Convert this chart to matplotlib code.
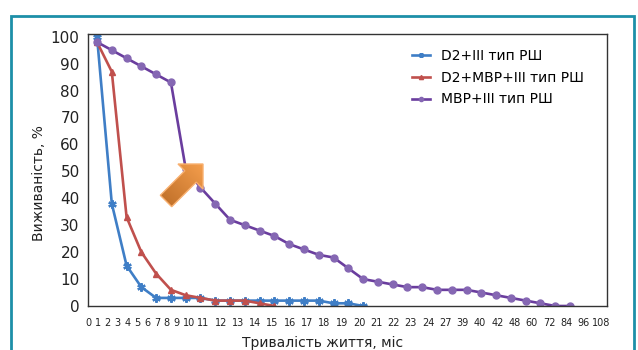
import matplotlib
matplotlib.use("Agg")
import matplotlib.pyplot as plt
import numpy as np
from matplotlib.colors import LinearSegmentedColormap
from matplotlib.patches import Polygon, Rectangle

# category labels of the x axis (months)
month_labels = ["0", "1", "2", "3", "4", "5", "6", "7", "8", "9", "10", "11", "12",
                "13", "14", "15", "16", "17", "18", "19", "20", "21", "22", "23",
                "24", "27", "39", "40", "42", "48", "60", "72", "84", "96", "108"]

# survival, %
d2_iii = [100, 38, 15, 7, 3, 3, 3, 3, 2, 2, 2, 2, 2, 2, 2, 2, 1, 1, 0]
d2_mbp_iii = [98, 87, 33, 20, 12, 6, 4, 3, 2, 2, 2, 1, 0]
mbp_iii = [98, 95, 92, 89, 86, 83, 51, 44, 38, 32, 30, 28, 26, 23, 21, 19, 18,
           14, 10, 9, 8, 7, 7, 6, 6, 6, 5, 4, 3, 2, 1, 0, 0]

series_names = ["D2+III тип РШ", "D2+MBP+III тип РШ", "MBP+III тип РШ"]

W, H = 638, 350
fig = plt.figure(figsize=(W / 100, H / 100), dpi=100)

# outer teal frame (bottom edge is cut off)
fig.patches.append(Rectangle((11 / W, -0.05), 623 / W, 1.05 - 16 / H,
                             transform=fig.transFigure, fill=False,
                             edgecolor="#1d8fa8", linewidth=2.0))

ax = fig.add_axes([88 / W, 1 - 306 / H, 519 / W, 272 / H])

ax.plot(np.arange(len(d2_iii)), d2_iii, color="#3f7ec6", lw=1.9,
        marker=(6, 2, 0), ms=6, mew=1.6, label=series_names[0])
ax.plot(np.arange(len(d2_mbp_iii)), d2_mbp_iii, color="#c0504d", lw=1.9,
        marker="^", ms=5, label=series_names[1])
ax.plot(np.arange(len(mbp_iii)), mbp_iii, color="#6a3d9e", lw=1.9,
        marker="o", ms=5, mfc="#8567b3", mec="#8567b3", label=series_names[2])

ax.set_xlim(-0.5, len(month_labels) - 0.5)
ax.set_ylim(0, 101)
ax.set_yticks(np.arange(0, 101, 10))
ax.tick_params(axis="y", length=0, pad=6, labelsize=11, labelcolor="#222222")

# the month labels are squeezed at the start, as in the original figure
tick_pos = np.concatenate([np.linspace(-0.61, 5.39, 10), [6.25],
                           np.linspace(7.2, 34.1, 24)])
ax.set_xticks(tick_pos)
ax.set_xticklabels(month_labels)
ax.tick_params(axis="x", length=0, pad=9, labelsize=7, labelcolor="#222222")

for s in ax.spines.values():
    s.set_color("#333333")
    s.set_linewidth(1.0)

ax.set_ylabel("Виживаність, %", fontsize=10, color="#222222")
ax.yaxis.set_label_coords(-0.081, 0.452)
ax.set_xlabel("Тривалість життя, міс", fontsize=10, color="#222222")
ax.xaxis.set_label_coords(0.451, -0.11)

ax.legend(loc="upper left", bbox_to_anchor=(0.6, 0.99), frameon=False,
          fontsize=10, handlelength=1.3, handletextpad=0.8, labelspacing=0.55,
          markerscale=0.6)

# orange block arrow pointing at the drop of the third curve
arrow_px = [(203, 164), (178, 164), (184.8, 170.8), (160.3, 195.3),
            (171.7, 206.7), (196.2, 182.2), (203, 189)]
x0, x1, y0, y1 = 158, 205, 209, 162
aax = fig.add_axes([x0 / W, 1 - y0 / H, (x1 - x0) / W, (y0 - y1) / H])
aax.set_xlim(x0, x1)
aax.set_ylim(y0, y1)
aax.axis("off")
grad = np.linspace(0, 1, 64)
gx, gy = np.meshgrid(grad, grad)
g = (gx + (1 - gy)) / 2
orange = LinearSegmentedColormap.from_list("or", ["#b96a25", "#f7a04e"])
img = aax.imshow(g, extent=(x0, x1, y0, y1), cmap=orange, aspect="auto",
                 origin="upper")
poly = Polygon(arrow_px, closed=True, facecolor="none", edgecolor="#f8b070", lw=1.0)
aax.add_patch(poly)
img.set_clip_path(poly)

fig.savefig("out.png", dpi=100)
